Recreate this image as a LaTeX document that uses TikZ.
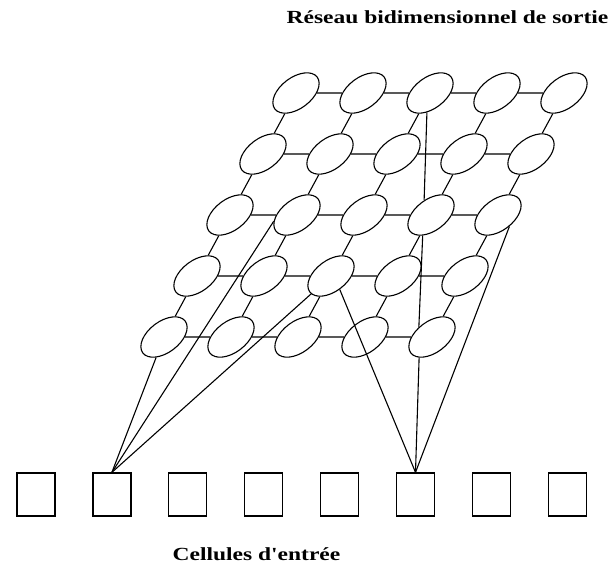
\documentclass[tikz,border=0pt]{standalone}
\usepackage{fontspec}
\usepackage{graphicx}
\setmainfont{Liberation Serif}[Ligatures=TeXOff]
\usetikzlibrary{shapes.geometric}
\begin{document}
\begin{tikzpicture}[x=1pt,y=1pt,
  cell/.style={ellipse, draw, line width=1.1pt, minimum width=53pt, minimum height=31pt, inner sep=0pt, rotate=37},
  inbox/.style={rectangle, draw, line width=1.3pt, minimum width=38pt, minimum height=43pt, inner sep=0pt},
  link/.style={line width=1.1pt},
  caption/.style={font=\bfseries\fontsize{18.5}{20}\selectfont, inner sep=0pt, anchor=base}
]
\path[use as bounding box] (0,0) rectangle (614,-571);
% output grid
\foreach \r in {1,...,5}{
  \foreach \c in {1,...,5}{
    \node[cell] (e\r\c) at ({296+67*(\c-1)-33*(\r-1)}, {-(93+61*(\r-1))}) {};
  }
}
% horizontal links
\foreach \r in {1,...,5}{
  \foreach \c in {1,...,4}{
    \pgfmathtruncatemacro{\cc}{\c+1}
    \draw[link] (e\r\c) -- (e\r\cc);
  }
}
% slanted links between rows
\foreach \r in {1,...,4}{
  \foreach \c in {1,...,5}{
    \pgfmathtruncatemacro{\rr}{\r+1}
    \draw[link] (e\r\c) -- (e\rr\c);
  }
}
% input cells
\foreach \i in {1,...,8}{
  \node[inbox] (s\i) at ({36+75.9*(\i-1)}, -494.5) {};
}
% connections of input cell 2
\draw[link] (s2.north) -- (e51);
\draw[link] (s2.north) -- (e32.158);
\draw[link] (s2.north) -- (e43.185);
% connections of input cell 6
\draw[link] (s6.north) -- (e43.266);
\draw[link] (s6.north) -- (e35.278);
\draw[link] (s6.north) -- (e55.201);
\draw[link] (e55.106) -- (e34.211);
\draw[link] (e34.78) -- (e13.224);
% captions
\node[caption] (title) at (447.5,-23.5) {\scalebox{1.27}[1]{Réseau bidimensionnel de sortie}};
\node[caption] (inlabel) at (256.5,-560) {\scalebox{1.27}[1]{Cellules d'entrée}};
\end{tikzpicture}
\end{document}
